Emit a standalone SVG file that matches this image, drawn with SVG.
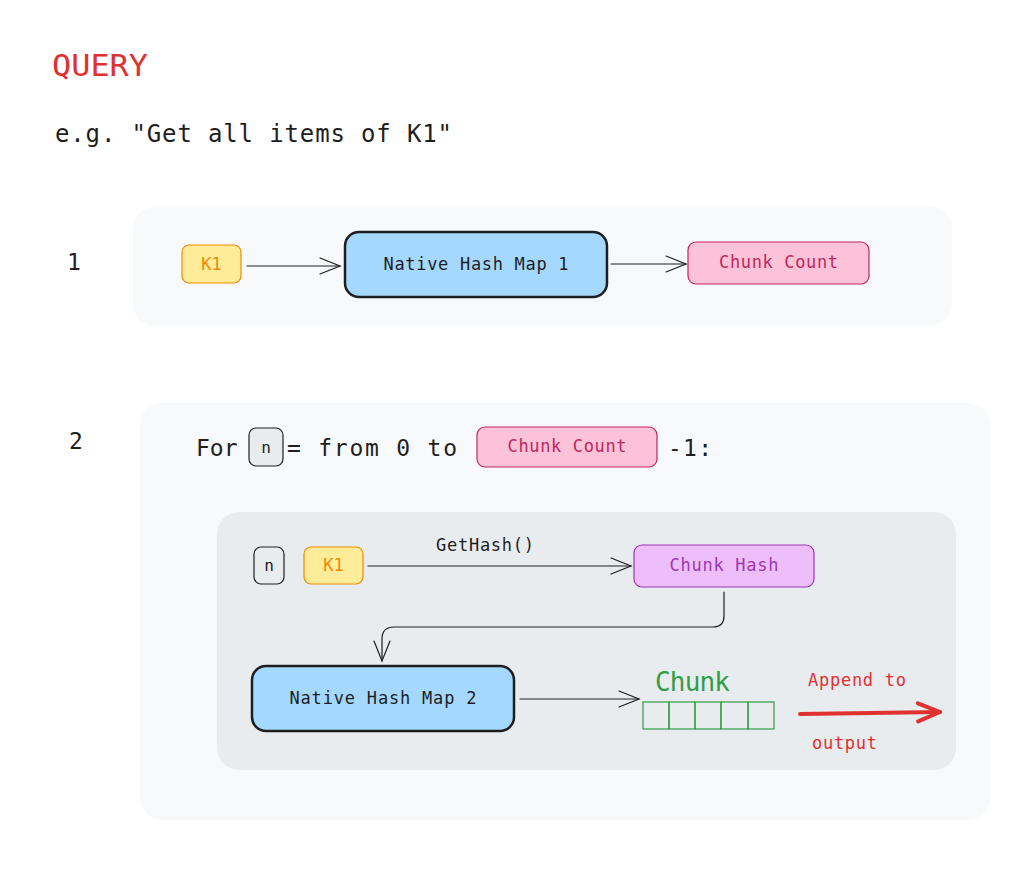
<svg xmlns="http://www.w3.org/2000/svg" width="1015" height="877" viewBox="0 0 1015 877">
<defs>
<style>
.hand{font-family:"DejaVu Sans Mono","Liberation Mono",monospace;}
.mono{font-family:"DejaVu Sans Mono","Liberation Mono",monospace;}
.line{fill:none;stroke:#1e1e1e;stroke-width:1.2;stroke-linecap:round;stroke-linejoin:round;}
.k1{fill:#ffec99;stroke:#f08c00;stroke-width:1.2;}
.k1t{fill:#f08c00;font-size:17px;}
.map{fill:#a5d8ff;stroke:#1e1e1e;stroke-width:2.5;}
.mapt{fill:#1e1e1e;font-size:17px;}
.cc{fill:#fcc2d7;stroke:#c2255c;stroke-width:1.2;}
.cct{fill:#c2255c;font-size:17px;}
</style>
<marker id="ah" markerWidth="24" markerHeight="20" refX="22" refY="10" orient="auto" markerUnits="userSpaceOnUse">
<path d="M2,2 L22,10 L2,18" fill="none" stroke="#1e1e1e" stroke-width="1.2" stroke-linecap="round"/>
</marker>
<marker id="ahr" markerWidth="30" markerHeight="24" refX="26" refY="12" orient="auto" markerUnits="userSpaceOnUse">
<path d="M4,3 L26,12 L4,21" fill="none" stroke="#e03131" stroke-width="4" stroke-linecap="round" stroke-linejoin="round"/>
</marker>
</defs>
<rect width="1015" height="877" fill="#ffffff"/>
<g id="title">
<text x="52" y="76" class="hand" font-size="31" fill="#e03131" textLength="96" lengthAdjust="spacingAndGlyphs">QUERY</text>
<text x="55" y="142" class="mono" font-size="24" fill="#1e1e1e" textLength="397">e.g. "Get all items of K1"</text>
</g>
<g id="step1">
<rect x="133" y="207" width="819" height="119" rx="22" fill="#f8f9fa"/>
<text x="74" y="270" class="mono" font-size="23" fill="#1e1e1e" text-anchor="middle">1</text>
</g>
<g id="k1a">
<rect x="182" y="245" width="59" height="38" rx="7" class="k1"/>
<text x="211.5" y="270" class="hand k1t" text-anchor="middle">K1</text>
</g>
<g id="map1">
<rect x="345" y="232" width="262" height="65" rx="14" class="map"/>
<text x="476" y="270" class="hand mapt" text-anchor="middle" textLength="185">Native Hash Map 1</text>
</g>
<g id="cc1">
<rect x="688" y="242" width="181" height="42" rx="8" class="cc"/>
<text x="778.5" y="268" class="hand cct" text-anchor="middle" textLength="119">Chunk Count</text>
</g>
<g id="step2">
<rect x="140" y="403" width="850" height="417" rx="22" fill="#f8f9fa"/>
<text x="76" y="449" class="mono" font-size="23" fill="#1e1e1e" text-anchor="middle">2</text>
<text x="196" y="456" class="mono" font-size="23" fill="#1e1e1e">For</text>
<text x="287" y="456" class="mono" font-size="23" fill="#1e1e1e" textLength="170">= from 0 to</text>
<text x="668" y="456" class="mono" font-size="23" fill="#1e1e1e" textLength="44">-1:</text>
</g>
<g id="nvar">
<rect x="249" y="428" width="34" height="38" rx="7" fill="#e9ecef" stroke="#1e1e1e" stroke-width="1.2"/>
<text x="266" y="453" class="mono" font-size="16" fill="#1e1e1e" text-anchor="middle">n</text>
</g>
<g id="cc2">
<rect x="477" y="427" width="180" height="40" rx="8" class="cc"/>
<text x="567" y="452" class="hand cct" text-anchor="middle" textLength="119">Chunk Count</text>
</g>
<g id="inner">
<rect x="217" y="512" width="739" height="258" rx="22" fill="#e9ecef"/>
</g>
<g id="n2">
<rect x="254" y="547" width="30" height="37" rx="7" fill="none" stroke="#1e1e1e" stroke-width="1.2"/>
<text x="269" y="571" class="mono" font-size="16" fill="#1e1e1e" text-anchor="middle">n</text>
</g>
<g id="k1b">
<rect x="304" y="547" width="59" height="37" rx="7" class="k1"/>
<text x="333.5" y="571" class="hand k1t" text-anchor="middle">K1</text>
</g>
<g id="chash">
<rect x="634" y="545" width="180" height="42" rx="8" fill="#eebefa" stroke="#9c36b5" stroke-width="1.2"/>
<text x="724" y="571" class="hand" font-size="17" fill="#9c36b5" text-anchor="middle" textLength="109">Chunk Hash</text>
</g>
<g id="map2">
<rect x="252" y="666" width="262" height="65" rx="14" class="map"/>
<text x="383" y="704" class="hand mapt" text-anchor="middle" textLength="187">Native Hash Map 2</text>
</g>
<g id="chunk">
<text x="655" y="691" class="hand" font-size="26" fill="#2f9e44" textLength="75">Chunk</text>
<g fill="none" stroke="#2f9e44" stroke-width="1.2">
<rect x="643" y="702" width="26" height="27"/>
<rect x="669" y="702" width="26" height="27"/>
<rect x="695" y="702" width="26" height="27"/>
<rect x="721" y="702" width="27" height="27"/>
<rect x="748" y="702" width="26" height="27"/>
</g>
</g>
<g id="append">
<text x="808" y="686" class="hand" font-size="17" fill="#e03131" textLength="98">Append to</text>
<text x="812" y="749" class="hand" font-size="17" fill="#e03131" textLength="65">output</text>
</g>
<g id="connectors">
<path d="M247,266 L340,266" class="line" marker-end="url(#ah)"/>
<path d="M611,264 L686,264" class="line" marker-end="url(#ah)"/>
<path d="M368,566 L631,566" class="line" marker-end="url(#ah)"/>
<text x="436" y="551" class="hand" font-size="17" fill="#1e1e1e" textLength="98">GetHash()</text>
<path d="M724,592 L724,616 Q724,627 713,627 L394,627 Q382,627 382,639 L382,661" class="line" marker-end="url(#ah)"/>
<path d="M520,699 L639,699" class="line" marker-end="url(#ah)"/>
<path d="M800,714 L940,712" fill="none" stroke="#e03131" stroke-width="4" stroke-linecap="round" marker-end="url(#ahr)"/>
</g>
</svg>
